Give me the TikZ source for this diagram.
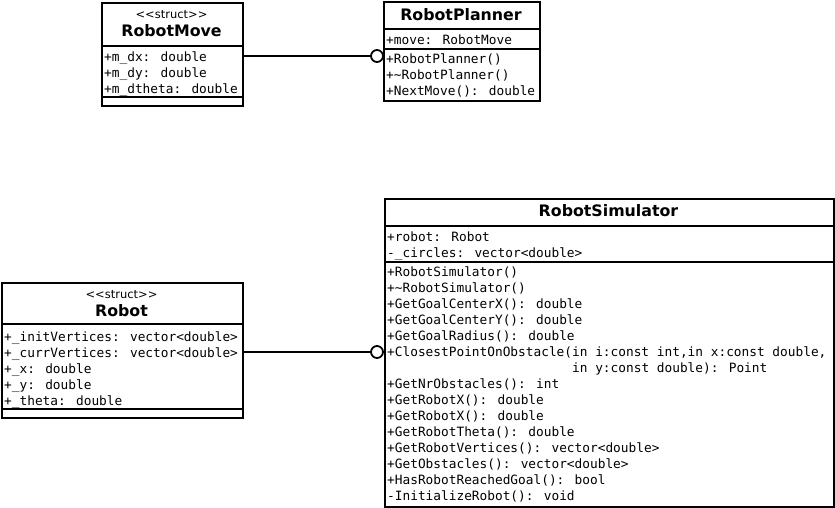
\documentclass[tikz,border=0pt]{standalone}
\usepackage{fontspec}
\setmainfont{DejaVu Sans}
\newfontfamily\monof{DejaVu Sans Mono}
\begin{document}
\begin{tikzpicture}[x=1pt,y=-1pt,
  box/.style={draw, line width=1.8pt, anchor=north west, inner sep=0pt, fill=white},
  mem/.style={anchor=mid west, inner sep=0pt, yshift=-2.5pt, font=\monof\fontsize{12.8}{16}\selectfont},
  ttl/.style={anchor=mid, inner sep=0pt, yshift=-2.5pt, font=\bfseries\fontsize{15.8}{18}\selectfont},
  ster/.style={anchor=mid, inner sep=0pt, yshift=-2pt, font=\fontsize{11.5}{13}\selectfont},
  sep/.style={line width=1.8pt},
  ball/.style={circle, draw, line width=1.8pt, fill=white, minimum size=12pt, inner sep=0pt},
  conn/.style={line width=1.8pt}]
\useasboundingbox (0,0) rectangle (835,508);

% RobotMove
\node[box, minimum width=141pt, minimum height=103pt] (rm) at (101,2) {};
\draw[sep] (rm.west |- 0,46) -- (rm.east |- 0,46);
\draw[sep] (rm.west |- 0,97) -- (rm.east |- 0,97);
\node[ster] (rmS) at (171.5,14) {<{}<struct>{}>};
\node[ttl] (rmT) at (171.5,31) {RobotMove};
\node[mem] (rm1) at (104,56) {+m\_dx: double};
\node[mem] (rm2) at (104,72) {+m\_dy: double};
\node[mem] (rm3) at (104,88) {+m\_dtheta: double};

% RobotPlanner
\node[box, minimum width=156pt, minimum height=99pt] (rp) at (383,1) {};
\draw[sep] (rp.west |- 0,29) -- (rp.east |- 0,29);
\draw[sep] (rp.west |- 0,49) -- (rp.east |- 0,49);
\node[ttl] (rpT) at (461,15) {RobotPlanner};
\node[mem] (rp1) at (386,39) {+move: RobotMove};
\node[mem] (rp2) at (386,58) {+RobotPlanner()};
\node[mem] (rp3) at (386,74) {+\textasciitilde RobotPlanner()};
\node[mem] (rp4) at (386,90) {+NextMove(): double};

% Robot
\node[box, minimum width=241pt, minimum height=135pt] (rb) at (1,282) {};
\draw[sep] (rb.west |- 0,324) -- (rb.east |- 0,324);
\draw[sep] (rb.west |- 0,409) -- (rb.east |- 0,409);
\node[ster] (rbS) at (121.5,294) {<{}<struct>{}>};
\node[ttl] (rbT) at (121.5,311) {Robot};
\node[mem] (rb1) at (4,336) {+\_initVertices: vector<double>};
\node[mem] (rb2) at (4,352) {+\_currVertices: vector<double>};
\node[mem] (rb3) at (4,368) {+\_x: double};
\node[mem] (rb4) at (4,384) {+\_y: double};
\node[mem] (rb5) at (4,400) {+\_theta: double};

% RobotSimulator
\node[box, minimum width=449pt, minimum height=308pt] (rs) at (384,198) {};
\draw[sep] (rs.west |- 0,226) -- (rs.east |- 0,226);
\draw[sep] (rs.west |- 0,262) -- (rs.east |- 0,262);
\node[ttl] (rsT) at (608.5,211) {RobotSimulator};
\node[mem] (rs1) at (387,236) {+robot: Robot};
\node[mem] (rs2) at (387,252) {-\_circles: vector<double>};
\node[mem] (m1) at (387,271) {+RobotSimulator()};
\node[mem] (m2) at (387,287) {+\textasciitilde RobotSimulator()};
\node[mem] (m3) at (387,303) {+GetGoalCenterX(): double};
\node[mem] (m4) at (387,319) {+GetGoalCenterY(): double};
\node[mem] (m5) at (387,335) {+GetGoalRadius(): double};
\node[mem] (m6) at (387,351) {+ClosestPointOnObstacle(in i:const int,in x:const double,};
\node[mem] (m7) at (387,367) {\phantom{+ClosestPointOnObstacle(}in y:const double): Point};
\node[mem] (m8) at (387,383) {+GetNrObstacles(): int};
\node[mem] (m9) at (387,399) {+GetRobotX(): double};
\node[mem] (m10) at (387,415) {+GetRobotX(): double};
\node[mem] (m11) at (387,431) {+GetRobotTheta(): double};
\node[mem] (m12) at (387,447) {+GetRobotVertices(): vector<double>};
\node[mem] (m13) at (387,463) {+GetObstacles(): vector<double>};
\node[mem] (m14) at (387,479) {+HasRobotReachedGoal(): bool};
\node[mem] (m15) at (387,495) {-InitializeRobot(): void};

% connectors
\node[ball] (b1) at (377,56) {};
\draw[conn] (rm.east |- b1) -- (b1.west);
\node[ball] (b2) at (377,352) {};
\draw[conn] (rb.east |- b2) -- (b2.west);
\end{tikzpicture}
\end{document}
